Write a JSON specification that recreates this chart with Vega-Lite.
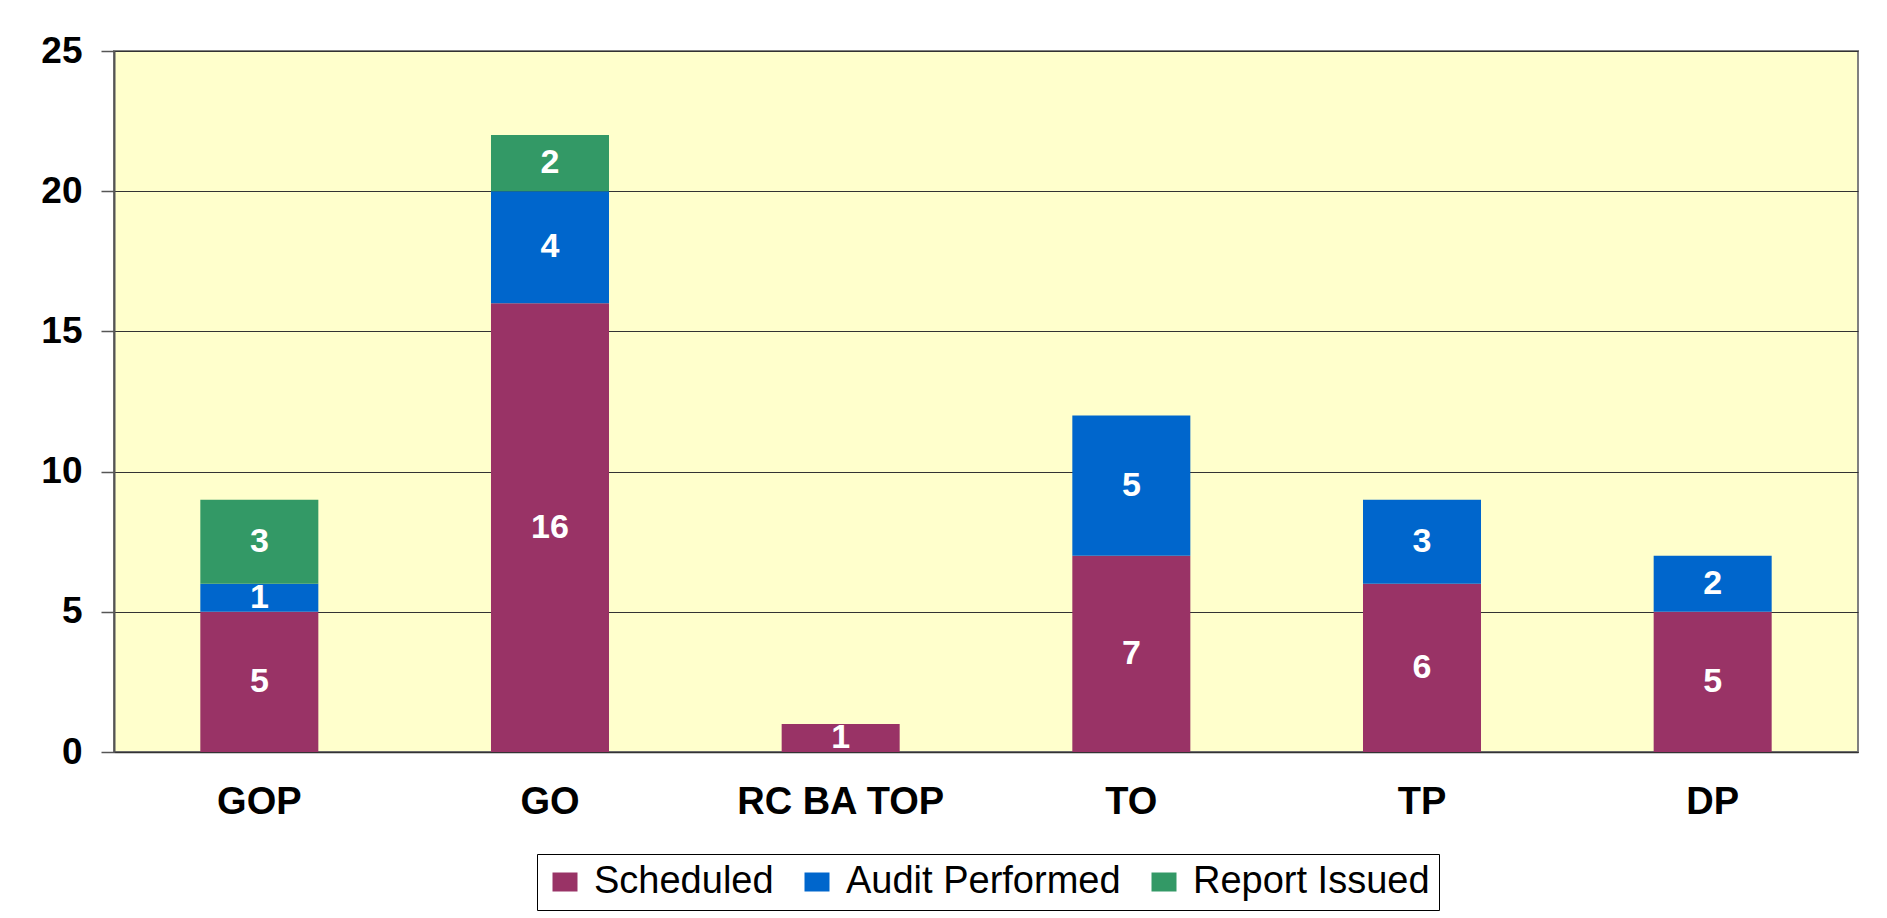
{
  "$schema": "https://vega.github.io/schema/vega-lite/v6.json",
  "autosize": {"type": "none"},
  "width": 1744,
  "height": 701,
  "padding": {"left": 114, "top": 51, "right": 29, "bottom": 166},
  "background": "white",
  "config": {
    "view": {"fill": "#FFFFCC", "stroke": "#808080", "strokeWidth": 2},
    "font": "Liberation Sans"
  },
  "data": {
    "values": [
      {"cat": "GOP", "status": "Scheduled", "k": 1, "n": 5},
      {"cat": "GOP", "status": "Audit Performed", "k": 2, "n": 1},
      {"cat": "GOP", "status": "Report Issued", "k": 3, "n": 3},
      {"cat": "GO", "status": "Scheduled", "k": 1, "n": 16},
      {"cat": "GO", "status": "Audit Performed", "k": 2, "n": 4},
      {"cat": "GO", "status": "Report Issued", "k": 3, "n": 2},
      {"cat": "RC BA TOP", "status": "Scheduled", "k": 1, "n": 1},
      {"cat": "TO", "status": "Scheduled", "k": 1, "n": 7},
      {"cat": "TO", "status": "Audit Performed", "k": 2, "n": 5},
      {"cat": "TP", "status": "Scheduled", "k": 1, "n": 6},
      {"cat": "TP", "status": "Audit Performed", "k": 2, "n": 3},
      {"cat": "DP", "status": "Scheduled", "k": 1, "n": 5},
      {"cat": "DP", "status": "Audit Performed", "k": 2, "n": 2}
    ]
  },
  "encoding": {
    "x": {
      "field": "cat", "type": "nominal",
      "sort": ["GOP", "GO", "RC BA TOP", "TO", "TP", "DP"],
      "scale": {"paddingInner": 0.594, "paddingOuter": 0.297},
      "axis": {
        "title": null, "labelAngle": 0, "ticks": false, "labelLimit": 0,
        "labelFont": "Liberation Sans", "labelFontWeight": "bold", "labelFontSize": 38,
        "labelColor": "black", "labelPadding": 31,
        "domainColor": "#333333", "domainWidth": 1.5
      }
    },
    "y": {
      "field": "n", "type": "quantitative", "stack": "zero",
      "scale": {"domain": [0, 25], "nice": false},
      "axis": {
        "title": null, "values": [0, 5, 10, 15, 20, 25],
        "labelFont": "Liberation Sans", "labelFontWeight": "bold", "labelFontSize": 37,
        "labelColor": "black", "labelPadding": 19,
        "tickSize": 13, "tickColor": "#555555", "tickWidth": 1.5,
        "domainColor": "#555555", "domainWidth": 2,
        "grid": true, "gridColor": "#333333", "gridWidth": 1
      }
    }
  },
  "layer": [
    {
      "mark": {"type": "bar"},
      "encoding": {
        "color": {
          "field": "status", "type": "nominal",
          "sort": ["Scheduled", "Audit Performed", "Report Issued"],
          "scale": {
            "domain": ["Scheduled", "Audit Performed", "Report Issued"],
            "range": ["#993366", "#0066CC", "#339966"]
          },
          "legend": {
            "title": null, "orient": "none", "legendX": 423, "legendY": 803,
            "direction": "horizontal", "columns": 3,
            "strokeColor": "black", "fillColor": "white", "padding": 9,
            "symbolType": "M-1,-0.76L1,-0.76L1,0.76L-1,0.76Z", "symbolSize": 625,
            "symbolStrokeWidth": 0, "symbolOpacity": 1,
            "labelFont": "Liberation Sans", "labelFontSize": 38, "labelColor": "black",
            "labelLimit": 0, "labelOffset": 10, "columnPadding": 24
          }
        },
        "order": {"field": "k", "type": "quantitative", "sort": "ascending"}
      }
    },
    {
      "mark": {"type": "text", "color": "white", "fontWeight": "bold", "fontSize": 34, "font": "Liberation Sans", "baseline": "middle"},
      "encoding": {
        "y": {"field": "n", "type": "quantitative", "stack": "zero", "bandPosition": 0.5},
        "text": {"field": "n", "type": "quantitative"},
        "detail": {"field": "status"},
        "order": {"field": "k", "type": "quantitative", "sort": "ascending"}
      }
    }
  ]
}
